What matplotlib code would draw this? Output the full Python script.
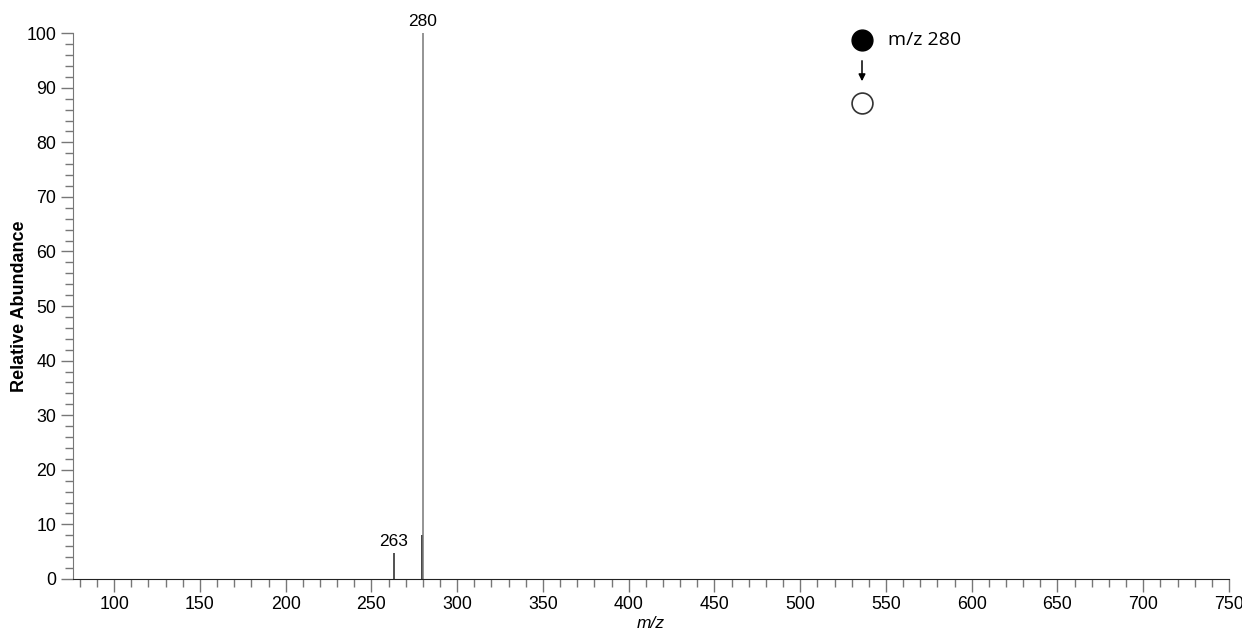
import numpy as np
import matplotlib
matplotlib.use("Agg")
import matplotlib.pyplot as plt
from matplotlib.lines import Line2D
from matplotlib.ticker import MultipleLocator

# spectrum peaks (m/z, relative abundance)
peak_mz = [263, 279.5, 280]
peak_int = [4.8, 8.0, 100.0]
peak_col = ["#222222", "#111111", "#777777"]
label_mz = [263, 280]
label_int = [4.8, 100.0]
label_txt = ["263", "280"]

precursor = "m/z 280"

plt.rcParams['font.family'] = ['Liberation Sans', 'DejaVu Sans']

fig = plt.figure(figsize=(12.42, 6.38), dpi=100)
ax = fig.add_axes([0.0588, 0.0925, 0.9307, 0.8555])

for mz, inten, c in zip(peak_mz, peak_int, peak_col):
    ax.vlines(mz, 0, inten, color=c, lw=1.1)

for mz, inten, t in zip(label_mz, label_int, label_txt):
    ax.annotate(t, (mz, inten), xytext=(0, 3), textcoords="offset points",
                ha="center", va="bottom", fontsize=12.5)

ax.set_xlim(76, 750)
ax.set_ylim(0, 100)
ax.xaxis.set_major_locator(MultipleLocator(50))
ax.xaxis.set_minor_locator(MultipleLocator(10))
ax.yaxis.set_major_locator(MultipleLocator(10))
ax.yaxis.set_minor_locator(MultipleLocator(2))
ax.set_xticks(np.arange(100, 751, 50))

ax.spines['top'].set_visible(False)
ax.spines['right'].set_visible(False)
ax.spines['left'].set_color('#777777')
ax.spines['bottom'].set_color('#222222')
ax.tick_params(which='major', length=9, width=1, color='#777777', labelsize=12.8, pad=3)
ax.tick_params(which='minor', length=6, width=1, color='#777777')

ax.set_ylabel("Relative Abundance", fontweight='bold', fontsize=13, va='center')
ax.set_xlabel("m/z", fontstyle='italic', fontsize=12.5, va='center')
ax.yaxis.set_label_coords(-0.0467, 0.5)
ax.xaxis.set_label_coords(0.5, -0.0824)

# precursor scheme in the upper right
cx = 862 / 1242
fig.add_artist(Line2D([cx], [1 - 40 / 638], marker='o', markersize=15,
                      markerfacecolor='black', markeredgecolor='black',
                      transform=fig.transFigure))
fig.add_artist(Line2D([cx], [1 - 103 / 638], marker='o', markersize=15,
                      markerfacecolor='white', markeredgecolor='#333333', markeredgewidth=1.2,
                      transform=fig.transFigure))
fig.text(888 / 1242, 1 - 40 / 638, precursor, fontsize=14, va='center', ha='left',
         family=['Open Sans', 'DejaVu Sans'])
ax.annotate("", xy=(cx, 1 - 84 / 638), xytext=(cx, 1 - 58 / 638),
            xycoords='figure fraction', textcoords='figure fraction',
            arrowprops=dict(arrowstyle='-|>', color='black', lw=1.1, mutation_scale=10))

fig.savefig("out.png", dpi=100)
